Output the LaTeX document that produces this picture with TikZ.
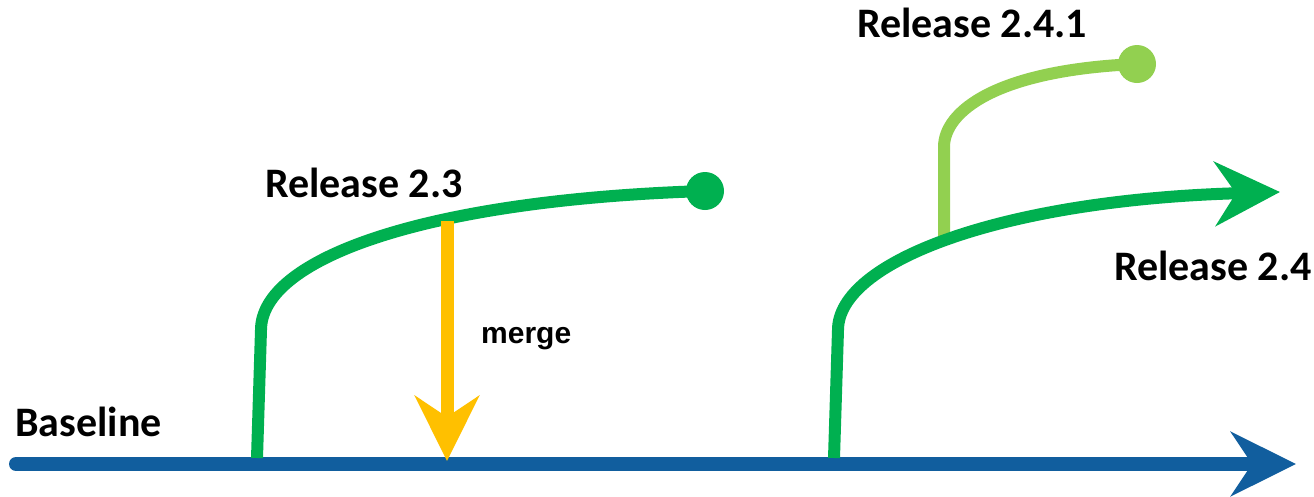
\documentclass[tikz,border=0pt]{standalone}
\usepackage{fontspec}
\setmainfont{Carlito}
\newfontfamily\mergefont{Liberation Sans}
\usetikzlibrary{arrows.meta}

\definecolor{baseblue}{RGB}{17,94,158}
\definecolor{relgreen}{HTML}{00B050}
\definecolor{hotfixgreen}{HTML}{92D050}
\definecolor{mergeyellow}{HTML}{FFC000}

\begin{document}
\begin{tikzpicture}[x=1pt,y=-1pt,
  relname/.style={font=\bfseries\fontsize{42}{48}\selectfont, inner sep=0pt, anchor=base west},
  branchline/.style={line width=12pt},
  enddot/.style={circle, fill, inner sep=0pt, minimum size=38pt},
  bigtip/.style={-{Stealth[length=65pt,width=64pt,inset=21pt]}}
]
\useasboundingbox (0,0) rectangle (1314,496);

% trunk
\coordinate (trunkstart) at (16,464);
\coordinate (trunkend) at (1296,464);
\draw[baseblue, line width=14pt, line cap=round, bigtip] (trunkstart) -- (trunkend);
\node[relname] (lbase) at (15,436) {Baseline};

% release 2.3 branch
\coordinate (fork23) at (257,458);
\coordinate (bend23) at (261,330);
\node[enddot, fill=relgreen] (dot23) at (705,191) {};
\draw[relgreen, branchline] (fork23) -- (bend23)
  .. controls (261,260) and (420,200) .. (dot23.center);
\node[relname] (l23) at (265,197) {Release 2.3};

% merge back into the trunk
\coordinate (mergetop) at (447,221);
\coordinate (mergeend) at (447,461);
\draw[mergeyellow, line width=13pt, bigtip] (mergetop) -- (mergeend);
\node[font=\mergefont\bfseries\fontsize{30}{36}\selectfont, inner sep=0pt, anchor=base west]
  (lmerge) at (481,343) {merge};

% hotfix 2.4.1
\coordinate (fork241) at (944,244);
\coordinate (bend241) at (944,147);
\node[enddot, fill=hotfixgreen] (dot241) at (1137,64) {};
\draw[hotfixgreen, branchline] (fork241) -- (bend241)
  .. controls (944,112) and (995,70) .. (dot241.center);
\node[relname] (l241) at (857,37) {Release 2.4.1};

% release 2.4 branch
\coordinate (fork24) at (834,458);
\coordinate (bend24) at (838,330);
\coordinate (tip24) at (1280,192);
\draw[relgreen, branchline, bigtip] (fork24) -- (bend24)
  .. controls (838,262) and (1000,200) .. (tip24);
\node[relname] (l24) at (1114,280) {Release 2.4};
\end{tikzpicture}
\end{document}
